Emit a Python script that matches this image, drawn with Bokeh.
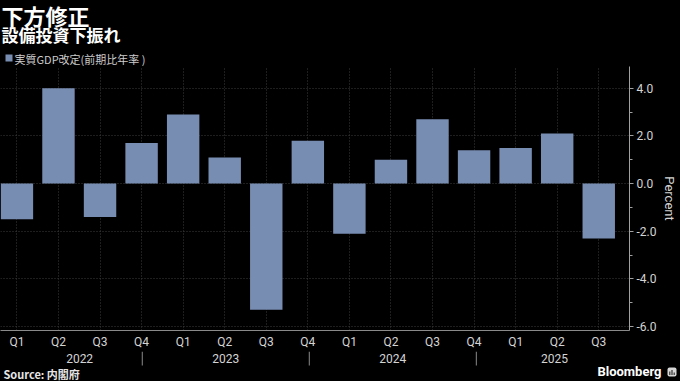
from bokeh.plotting import figure
from bokeh.layouts import column
from bokeh.models import (FixedTicker, LinearAxis, Range1d, ColumnDataSource,
                          Grid, NumeralTickFormatter, Plot)
from bokeh.core.properties import value
from bokeh.embed import file_html
from bokeh.resources import INLINE

# ---- data ----
quarters = ["Q1", "Q2", "Q3", "Q4", "Q1", "Q2", "Q3", "Q4",
            "Q1", "Q2", "Q3", "Q4", "Q1", "Q2", "Q3"]
years = ["2022", "2023", "2024", "2025"]
values = [-1.5, 4.0, -1.4, 1.7, 2.9, 1.1, -5.3, 1.8,
          -2.1, 1.0, 2.7, 1.4, 1.5, 2.1, -2.3]
y_ticks = [-6, -4, -2, 0, 2, 4]
y_minor = [-5, -3, -1, 1, 3]

title = "下方修正"
subtitle = "設備投資下振れ"
legend_text = "実質GDP改定(前期比年率 )"
source_text = "Source: 内閣府"
brand = "Bloomberg"

BAR = "#788db2"
FONT = "Roboto"
CJK = "Noto Sans CJK JP"
TXT = "#d4d4d4"
W = 680
FRAME_W = 632

HAS_FA = "frame_align" in Plot.properties()


def strip(h, xr):
    kw = dict(frame_align=False) if HAS_FA else {}
    f = figure(width=W, height=h, output_backend="svg", toolbar_location=None,
               x_range=xr, y_range=Range1d(h, 0), margin=0,
               x_axis_type=None, y_axis_type=None, min_border=0, **kw)
    f.background_fill_color = "black"
    f.border_fill_color = "black"
    f.outline_line_color = None
    f.xgrid.visible = False
    f.ygrid.visible = False
    return f


# ---- header ----
top = strip(66, Range1d(0, W))
top.text(x=[1], y=[14], text=[title], text_font=value(CJK), text_font_size="22px",
         text_font_style="bold", text_color="#ffffff", text_baseline="middle")
top.text(x=[1], y=[33.5], text=[subtitle], text_font=value(CJK), text_font_size="17px",
         text_font_style="bold", text_color="#ffffff", text_baseline="middle")
top.scatter(x=[8.5], y=[57.5], marker="square", size=7, fill_color=BAR, line_color=None)
top.text(x=[14], y=[58], text=[legend_text], text_font=value(CJK), text_font_size="11px",
         text_color="#cccccc", text_baseline="middle")

# ---- main chart ----
xs = list(range(len(values)))
X0, X1 = -0.395, 14.74
Y0, Y1 = -6.167, 4.917

p = figure(width=W, height=285, output_backend="svg", toolbar_location=None,
           x_range=Range1d(X0, X1), y_range=Range1d(Y0, Y1), margin=0,
           x_axis_type=None, y_axis_type=None,
           min_border_left=0, min_border_right=W - FRAME_W, min_border_top=0,
           min_border_bottom=19)
p.background_fill_color = "black"
p.border_fill_color = "black"
p.outline_line_color = None

p.add_layout(Grid(dimension=0, ticker=FixedTicker(ticks=xs),
                  grid_line_color="#3c3c3c", grid_line_dash="1 2"))
p.add_layout(Grid(dimension=1, ticker=FixedTicker(ticks=y_ticks),
                  grid_line_color="#3c3c3c", grid_line_dash="1 2"))

src = ColumnDataSource(dict(x=xs, top=values))
p.vbar(x="x", top="top", bottom=0, width=0.78, source=src,
       fill_color=BAR, line_color=None)

qaxis = LinearAxis(ticker=FixedTicker(ticks=xs),
                   major_label_overrides={i: q for i, q in enumerate(quarters)},
                   axis_line_color="#8a8a8a", major_tick_out=0, major_tick_in=0,
                   minor_tick_out=0, minor_tick_in=0, major_label_standoff=4,
                   major_label_text_color=TXT, major_label_text_font=FONT,
                   major_label_text_font_size="12px")
p.add_layout(qaxis, "below")

yaxis = LinearAxis(ticker=FixedTicker(ticks=y_ticks, minor_ticks=y_minor),
                   formatter=NumeralTickFormatter(format="0.0"),
                   axis_line_color="#a0a0a0", major_tick_line_color="#a0a0a0",
                   minor_tick_line_color="#a0a0a0",
                   major_tick_out=4, major_tick_in=0, minor_tick_out=3, minor_tick_in=0,
                   major_label_standoff=3, major_label_text_color=TXT,
                   major_label_text_font=FONT, major_label_text_font_size="12px",
                   axis_label="Percent", axis_label_standoff=3,
                   axis_label_text_font=FONT, axis_label_text_font_size="13px",
                   axis_label_text_font_style="normal", axis_label_text_color=TXT)
p.add_layout(yaxis, "right")

# ---- footer: year groups (same x scale as the chart), source, brand ----
scale = (X1 - X0) / FRAME_W
bot = strip(30, Range1d(X0, X0 + W * scale))

seps = [i for i, q in enumerate(quarters) if q == "Q4"]
bounds = [xs[0]] + seps + [X1]
year_pos = [(bounds[i] + bounds[i + 1]) / 2 for i in range(len(years))]
bot.text(x=year_pos, y=[7] * len(years), text=years, text_font=value(FONT),
         text_font_size="12px", text_color=TXT, text_align="center",
         text_baseline="middle")
bot.segment(x0=seps, x1=seps, y0=[0] * len(seps), y1=[14] * len(seps),
            line_color="#8a8a8a", line_width=1)


def px(v):
    return X0 + v * scale


bot.text(x=[px(3)], y=[22.5], text=[source_text], text_font=value(CJK),
         text_font_size="11px", text_font_style="bold", text_color="#e6e6e6",
         text_baseline="middle")
bot.text(x=[px(661)], y=[19.5], text=[brand], text_font=value(FONT), text_font_size="13px",
         text_font_style="bold", text_color="#ffffff", text_align="right",
         text_baseline="middle")
bot.quad(left=[px(667)], right=[px(676)], top=[16], bottom=[25], fill_color="#d6d6d6",
         line_color=None, border_radius=2)
bot.vbar(x=[px(669.3), px(671.5), px(673.7)], width=1.2 * scale, top=[20, 18.5, 21],
         bottom=[23.5, 23.5, 23.5], fill_color="#333333", line_color=None)

layout = column(top, p, bot, spacing=0, styles={"background-color": "black"})
open("out.html", "w").write(file_html(layout, INLINE))
